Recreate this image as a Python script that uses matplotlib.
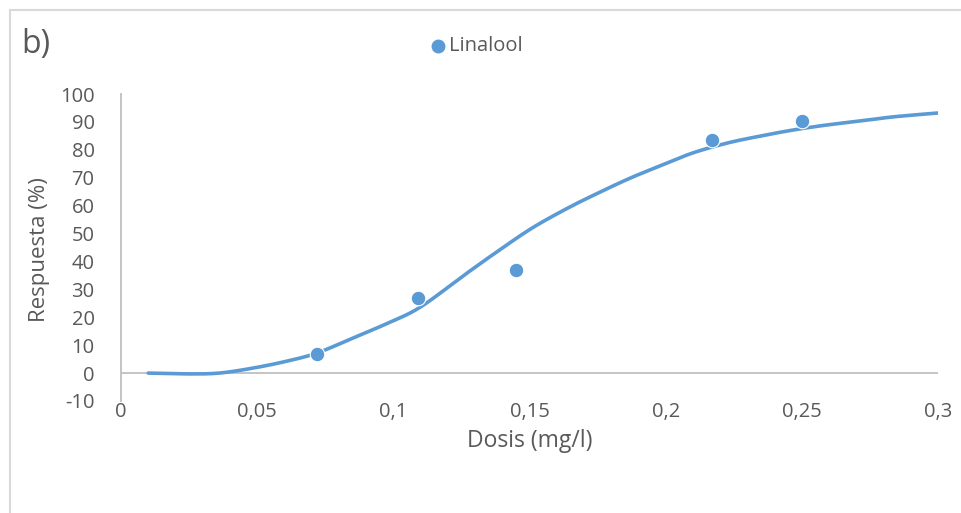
import numpy as np
import matplotlib
matplotlib.use("Agg")
import matplotlib.pyplot as plt
from matplotlib.lines import Line2D
from matplotlib.ticker import FuncFormatter

# data
dose_obs = [0.072, 0.109, 0.145, 0.217, 0.250]
resp_obs = [6.8, 26.9, 36.9, 83.5, 90.3]
dose_fit = [0.010, 0.024, 0.036, 0.0485, 0.061, 0.072, 0.085, 0.098, 0.110,
            0.127, 0.139, 0.151, 0.164, 0.176, 0.188, 0.200, 0.210, 0.2225,
            0.2346, 0.2468, 0.2592, 0.2714, 0.2835, 0.300]
resp_fit = [0.0, -0.3, 0.0, 1.8, 4.3, 7.2, 12.5, 17.9, 23.7,
            35.8, 44.1, 52.0, 59.1, 64.9, 70.3, 75.0, 78.9, 82.4,
            84.9, 87.1, 88.9, 90.3, 91.8, 93.2]
x_ticks = [0, 0.05, 0.1, 0.15, 0.2, 0.25, 0.3]
y_ticks = list(range(-10, 101, 10))
series_name = "Linalool"

def catmull_rom(xs, ys, n=30):
    xs = np.asarray(xs, float); ys = np.asarray(ys, float)
    P = np.column_stack([xs, ys])
    P = np.vstack([P[0], P, P[-1]])
    out = []
    for i in range(1, len(P) - 2):
        p0, p1, p2, p3 = P[i-1], P[i], P[i+1], P[i+2]
        t = np.linspace(0, 1, n)[:, None]
        c = 0.5 * ((2*p1) + (-p0 + p2)*t + (2*p0 - 5*p1 + 4*p2 - p3)*t**2 + (-p0 + 3*p1 - 3*p2 + p3)*t**3)
        out.append(c if i == 1 else c[1:])
    c = np.vstack(out)
    return c[:, 0], c[:, 1]

plt.rcParams['font.family'] = ['Open Sans', 'DejaVu Sans']
gray = '#595959'
blue = '#5B9BD5'

fig = plt.figure(figsize=(9.62, 5.13), dpi=100)
W, H = 962, 513
ax = fig.add_axes([121/W, (H-401)/H, (938-121)/W, (401-94)/H])

sx, sy = catmull_rom(dose_fit, resp_fit)
ax.plot(sx, sy, color=blue, lw=2.6, solid_capstyle='round', zorder=3)
ax.scatter(dose_obs, resp_obs, s=110, color=blue, edgecolors='white', linewidths=0.8, zorder=4)

ax.set_xlim(0, 0.3)
ax.set_ylim(-10, 100)
ax.set_xticks(x_ticks)
ax.set_yticks(y_ticks)
ax.xaxis.set_major_formatter(FuncFormatter(lambda v, p: ('%g' % v).replace('.', ',')))
ax.yaxis.set_major_formatter(FuncFormatter(lambda v, p: '%d' % v))
ax.tick_params(axis='both', length=0, labelsize=14.5, colors=gray)
ax.tick_params(axis='y', pad=19)
ax.tick_params(axis='x', pad=1)
for s in ['top', 'right', 'bottom']:
    ax.spines[s].set_visible(False)
ax.spines['left'].set_color('#bfbfbf')
ax.spines['left'].set_linewidth(1.3)
ax.axhline(0, color='#bfbfbf', lw=1.3, zorder=1)

fig.text(530/W, 1-441/H, 'Dosis (mg/l)', ha='center', va='center', fontsize=16.5, color=gray)
fig.text(40/W, 1-250/H, 'Respuesta (%)', ha='center', va='center', rotation=90, fontsize=16, color=gray)
fig.text(21/W, 1-45/H, 'b)', ha='left', va='center', fontsize=23, color=gray)

fig.add_artist(Line2D([438/W], [1-46/H], marker='o', markersize=9, color=blue, transform=fig.transFigure))
fig.text(449/W, 1-46/H, series_name, ha='left', va='center', fontsize=14.5, color=gray)

# chart border
fig.add_artist(Line2D([9.5/W, 9.5/W], [0, 1-9.5/H], color='#d9d9d9', lw=1.5, transform=fig.transFigure))
fig.add_artist(Line2D([9.5/W, 1], [1-9.5/H, 1-9.5/H], color='#d9d9d9', lw=1.5, transform=fig.transFigure))

fig.savefig('out.png', dpi=100, facecolor='white')
